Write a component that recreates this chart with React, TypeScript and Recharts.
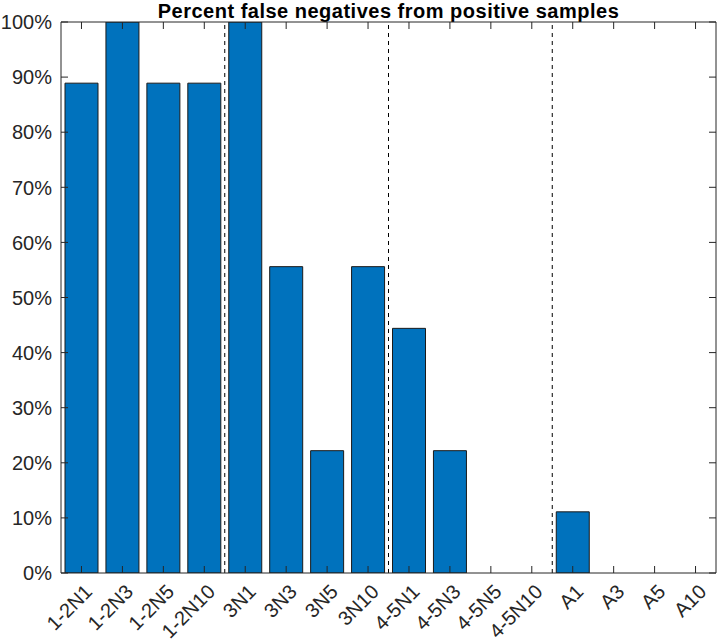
import React from "react";
import {
  BarChart,
  Bar,
  XAxis,
  YAxis,
  ReferenceLine,
} from "recharts";

const categories = [
  "1-2N1", "1-2N3", "1-2N5", "1-2N10",
  "3N1", "3N3", "3N5", "3N10",
  "4-5N1", "4-5N3", "4-5N5", "4-5N10",
  "A1", "A3", "A5", "A10",
];
const falseNegPct = [
  88.9, 100, 88.9, 88.9,
  100, 55.6, 22.2, 55.6,
  44.4, 22.2, 0, 0,
  11.1, 0, 0, 0,
];
const groupSeparators = [4.5, 8.5, 12.5];
const yTicks = [0, 10, 20, 30, 40, 50, 60, 70, 80, 90, 100];
const xTicks = categories.map((_, i) => i + 1);

const data = categories.map((c, i) => ({ pos: i + 1, label: c, value: falseNegPct[i] }));

const FONT = "'Liberation Sans', Arial, Helvetica, sans-serif";
const AX = "#262626";
const TICK_LEN = 7;

function BottomTick(props: any) {
  const { x, y, payload } = props;
  const label = categories[payload.value - 1] ?? "";
  return (
    <g>
      <line x1={x} y1={y} x2={x} y2={y - TICK_LEN} stroke={AX} strokeWidth={1} />
      <text
        x={x + 12}
        y={y + 20}
        textAnchor="end"
        fontSize={20}
        fontFamily={FONT}
        fill={AX}
        transform={`rotate(-45, ${x + 12}, ${y + 20})`}
      >
        {label}
      </text>
    </g>
  );
}

function TopTick(props: any) {
  const { x, y } = props;
  return <line x1={x} y1={y} x2={x} y2={y + TICK_LEN} stroke={AX} strokeWidth={1} />;
}

function LeftTick(props: any) {
  const { x, y, payload } = props;
  return (
    <g>
      <line x1={x} y1={y} x2={x + TICK_LEN} y2={y} stroke={AX} strokeWidth={1} />
      <text x={x - 9} y={y} dy="0.36em" textAnchor="end" fontSize={20} fontFamily={FONT} fill={AX}>
        {`${payload.value}%`}
      </text>
    </g>
  );
}

function RightTick(props: any) {
  const { x, y } = props;
  return <line x1={x} y1={y} x2={x - TICK_LEN} y2={y} stroke={AX} strokeWidth={1} />;
}

export default function App() {
  return (
    <div style={{ position: "absolute", left: 0, top: 0, width: 720, height: 643, background: "#fff" }}>
      <div
        style={{
          position: "absolute",
          left: 61,
          width: 655,
          top: 0,
          textAlign: "center",
          fontFamily: FONT,
          fontWeight: "bold",
          fontSize: 20,
          letterSpacing: "0.5px",
          lineHeight: "22px",
          color: "#000",
        }}
      >
        Percent false negatives from positive samples
      </div>
      <BarChart width={720} height={643} data={data} margin={{ top: 21, right: 3, bottom: 0, left: 0 }}>
        <XAxis
          xAxisId="bottom"
          dataKey="pos"
          type="number"
          domain={[0.5, 16.5]}
          ticks={xTicks}
          allowDataOverflow
          height={70}
          tickSize={0}
          tickMargin={0}
          tickLine={false}
          axisLine={{ stroke: AX }}
          tick={<BottomTick />}
          interval={0}
        />
        <XAxis
          xAxisId="top"
          orientation="top"
          dataKey="pos"
          type="number"
          domain={[0.5, 16.5]}
          ticks={xTicks}
          allowDataOverflow
          height={1}
          tickSize={0}
          tickMargin={0}
          tickLine={false}
          axisLine={{ stroke: AX }}
          tick={<TopTick />}
          interval={0}
        />
        <YAxis
          yAxisId="left"
          type="number"
          domain={[0, 100]}
          ticks={yTicks}
          allowDataOverflow
          width={61}
          tickSize={0}
          tickMargin={0}
          tickLine={false}
          axisLine={{ stroke: AX }}
          tick={<LeftTick />}
          interval={0}
        />
        <YAxis
          yAxisId="right"
          orientation="right"
          type="number"
          domain={[0, 100]}
          ticks={yTicks}
          allowDataOverflow
          width={1}
          tickSize={0}
          tickMargin={0}
          tickLine={false}
          axisLine={{ stroke: AX }}
          tick={<RightTick />}
          interval={0}
        />
        <Bar
          xAxisId="bottom"
          yAxisId="left"
          dataKey="value"
          fill="#0072BD"
          stroke="#1a1a1a"
          strokeWidth={1}
          barSize={33}
          isAnimationActive={false}
        />
        <Bar
          xAxisId="top"
          yAxisId="right"
          dataKey="value"
          fill="none"
          stroke="none"
          barSize={1}
          legendType="none"
          isAnimationActive={false}
        />
        {groupSeparators.map((s) => (
          <ReferenceLine
            key={s}
            xAxisId="bottom"
            yAxisId="left"
            x={s}
            stroke="#000"
            strokeWidth={1}
            strokeDasharray="4 4"
          />
        ))}
      </BarChart>
    </div>
  );
}
